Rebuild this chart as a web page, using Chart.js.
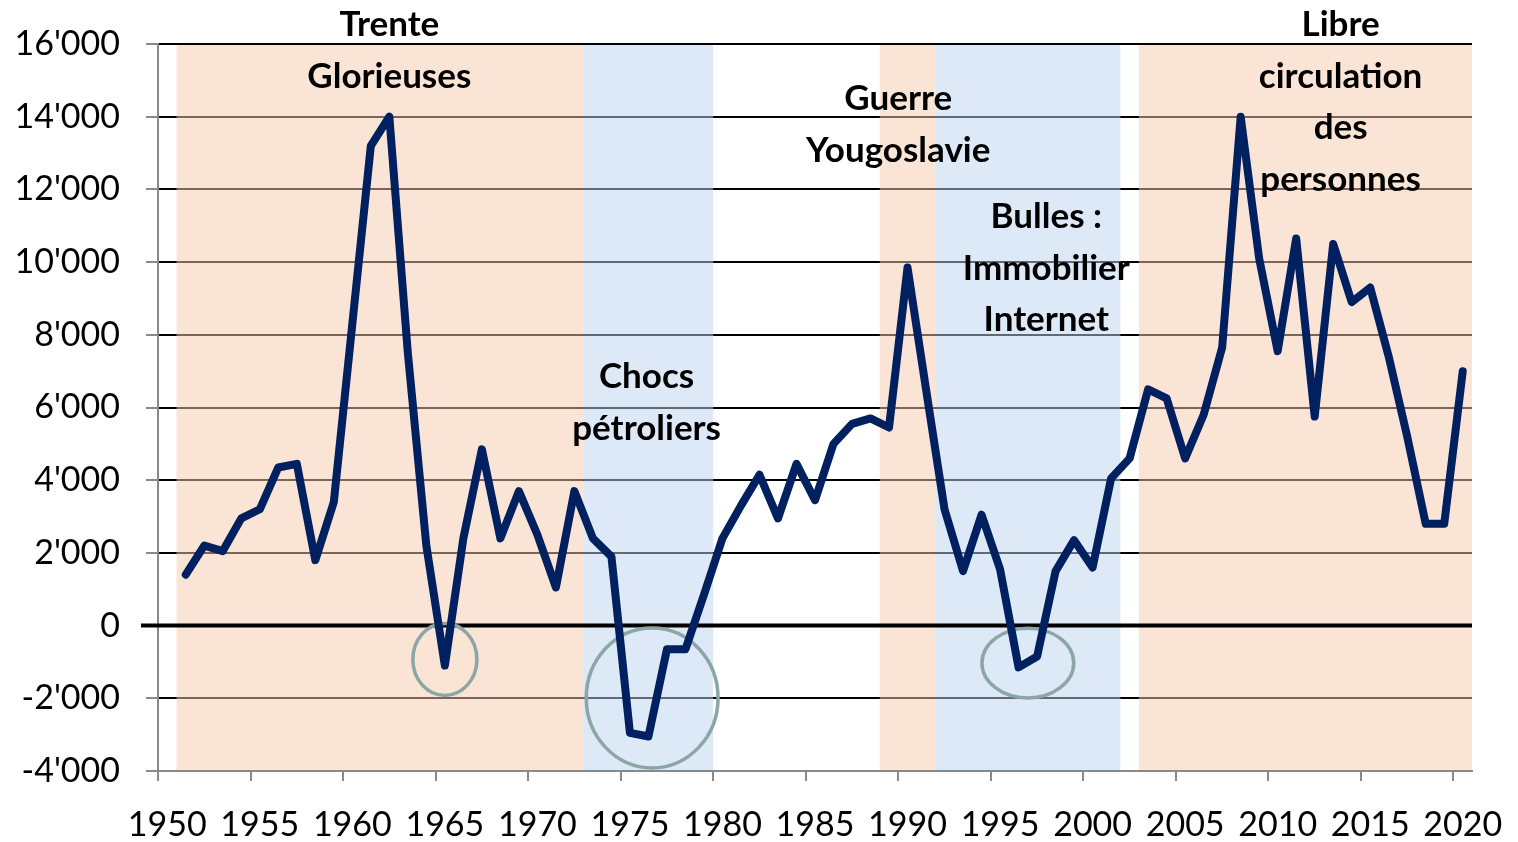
<!DOCTYPE html>
<html>
<head>
<meta charset="utf-8">
<script src="https://cdn.jsdelivr.net/npm/chart.js@4.4.1/dist/chart.umd.min.js"></script>
<style>
  html, body { margin: 0; padding: 0; background: #fff; }
  #wrap { width: 1518px; height: 842px; }
</style>
</head>
<body>
<div id="wrap"><canvas id="chart" width="1518" height="842"></canvas></div>
<script>
const years = [
  1950, 1951, 1952, 1953, 1954, 1955, 1956, 1957, 1958, 1959,
  1960, 1961, 1962, 1963, 1964, 1965, 1966, 1967, 1968, 1969,
  1970, 1971, 1972, 1973, 1974, 1975, 1976, 1977, 1978, 1979,
  1980, 1981, 1982, 1983, 1984, 1985, 1986, 1987, 1988, 1989,
  1990, 1991, 1992, 1993, 1994, 1995, 1996, 1997, 1998, 1999,
  2000, 2001, 2002, 2003, 2004, 2005, 2006, 2007, 2008, 2009,
  2010, 2011, 2012, 2013, 2014, 2015, 2016, 2017, 2018, 2019,
  2020
];
const values = [
  null, 1400, 2200, 2050, 2950, 3200, 4350, 4450, 1800, 3400,
  8300, 13200, 14000, 7500, 2200, -1100, 2400, 4850, 2400, 3700,
  2500, 1050, 3700, 2400, 1900, -2950, -3050, -650, -650, 850,
  2400, 3300, 4150, 2950, 4450, 3450, 5000, 5550, 5700, 5450,
  9850, 6500, 3200, 1500, 3050, 1550, -1150, -850, 1500, 2350,
  1600, 4050, 4600, 6500, 6250, 4600, 5800, 7650, 14000, 10100,
  7550, 10650, 5750, 10500, 8900, 9300, 7400, 5200, 2800, 2800,
  7000
];
const yTicks = [-4000, -2000, 0, 2000, 4000, 6000, 8000, 10000, 12000, 14000, 16000];

// shaded periods
const bandFrom = [1951, 1973, 1989, 1992, 2003];
const bandTo = [1972, 1979, 1991, 2001, 2020];
const bandTint = ["rgba(245,201,171,0.5)", "rgba(187,211,237,0.5)", "rgba(245,201,171,0.5)", "rgba(187,211,237,0.5)", "rgba(245,201,171,0.5)"];

// period captions (year, value of first line)
const noteLines = [["Trente", "Glorieuses"], ["Chocs", "pétroliers"], ["Guerre", "Yougoslavie"], ["Bulles :", "Immobilier", "Internet"], ["Libre", "circulation", "des", "personnes"]];
const noteYear = [1962, 1975.9, 1989.5, 1997.5, 2013.4];
const noteValue = [16530, 6840, 14490, 11240, 16530];

// highlighted dips
const ringYear = [1965, 1976.2, 1996.5];
const ringValue = [-930, -1990, -1030];
const ringRadiusYears = [1.73, 3.56, 2.48];
const ringRadiusValue = [990, 1925, 960];

const fmt = (v) => (v < 0 ? "-" : "") + String(Math.abs(v)).replace(/\B(?=(\d{3})+(?!\d))/g, "'");
const idx = (yr) => yr - years[0];

const backdrop = {
  id: "backdrop",
  beforeDatasetsDraw(chart) {
    const { ctx, chartArea: area, scales: { x, y } } = chart;
    const half = (x.getPixelForValue(1) - x.getPixelForValue(0)) / 2;
    ctx.save();
    bandFrom.forEach((from, i) => {
      const left = x.getPixelForValue(idx(from)) - half;
      const right = x.getPixelForValue(idx(bandTo[i])) + half;
      ctx.fillStyle = bandTint[i];
      ctx.fillRect(left, area.top + 1, right - left, area.bottom - area.top - 2);
    });

    const zero = y.getPixelForValue(0);
    ctx.strokeStyle = "#000";
    ctx.lineWidth = 4;
    ctx.beginPath();
    ctx.moveTo(area.left - 17, zero);
    ctx.lineTo(area.right, zero);
    ctx.stroke();

    ctx.strokeStyle = "#8ca6a6";
    ctx.lineWidth = 3.5;
    ringYear.forEach((yr, i) => {
      const cx = x.getPixelForValue(idx(yr));
      const cy = y.getPixelForValue(ringValue[i]);
      const rx = x.getPixelForValue(idx(yr) + ringRadiusYears[i]) - cx;
      const ry = cy - y.getPixelForValue(ringValue[i] + ringRadiusValue[i]);
      ctx.beginPath();
      ctx.ellipse(cx, cy, rx, ry, 0, 0, Math.PI * 2);
      ctx.stroke();
    });
    ctx.restore();
  },
  afterDatasetsDraw(chart) {
    const { ctx, scales: { x, y } } = chart;
    ctx.save();
    ctx.font = "bold 35px Lato";
    ctx.fillStyle = "#000";
    ctx.textAlign = "center";
    ctx.textBaseline = "middle";
    noteLines.forEach((lines, i) => {
      const cx = x.getPixelForValue(idx(noteYear[i]));
      const top = y.getPixelForValue(noteValue[i]);
      lines.forEach((t, k) => ctx.fillText(t, cx, top + k * 51.5));
    });
    ctx.restore();
  }
};

new Chart(document.getElementById("chart"), {
  type: "line",
  data: {
    labels: years,
    datasets: [{
      data: values,
      borderColor: "#002060",
      borderWidth: 8,
      borderCapStyle: "round",
      borderJoinStyle: "round",
      pointRadius: 0,
      tension: 0,
      fill: false
    }]
  },
  options: {
    responsive: false,
    animation: false,
    layout: { padding: { left: 10, right: 46, top: 44, bottom: 0 } },
    plugins: { legend: { display: false }, tooltip: { enabled: false } },
    scales: {
      x: {
        type: "category",
        offset: true,
        afterFit(scale) {
          scale.height = 71;
          scale.paddingLeft = 0;
          scale.paddingRight = 0;
        },
        border: { color: "#898989", width: 2 },
        grid: {
          offset: true,
          drawOnChartArea: false,
          tickLength: 10,
          lineWidth: 2,
          tickColor: (c) => (c.type === "tick" && years[c.index] % 5 === 0 ? "#898989" : "rgba(0,0,0,0)"),
          color: "rgba(0,0,0,0)"
        },
        ticks: {
          autoSkip: false,
          maxRotation: 0,
          padding: 24,
          color: "#000",
          font: { family: "Lato", size: 34 },
          callback(v, i) { return years[i] % 5 === 0 ? String(years[i]) : ""; }
        }
      },
      y: {
        min: -4000,
        max: 16000,
        afterFit(scale) {
          scale.width = 148;
          scale.paddingTop = 0;
          scale.paddingBottom = 0;
        },
        afterBuildTicks(scale) { scale.ticks = yTicks.map((v) => ({ value: v })); },
        border: { color: "#898989", width: 2 },
        grid: {
          color: "#000",
          lineWidth: 2,
          tickLength: 12,
          tickColor: "#898989"
        },
        ticks: {
          padding: 26,
          color: "#000",
          font: { family: "Lato", size: 34 },
          callback: (v) => fmt(v)
        }
      }
    }
  },
  plugins: [backdrop]
});
</script>
</body>
</html>
